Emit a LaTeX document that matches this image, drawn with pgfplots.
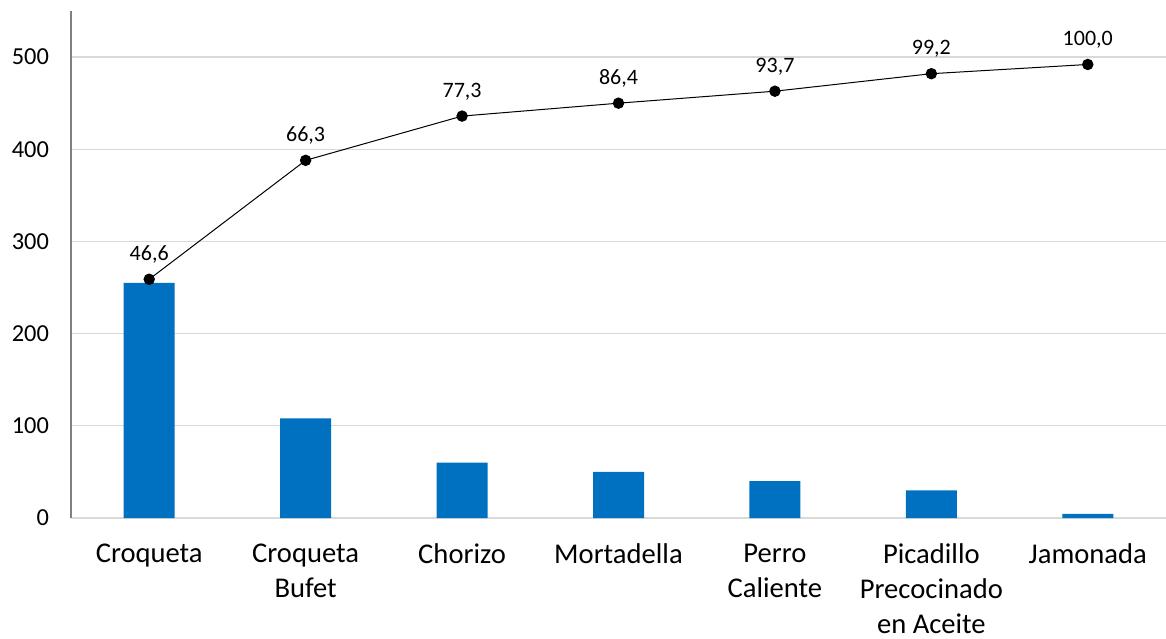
\documentclass[border=0pt]{standalone}
\usepackage{pgfplots}
\pgfplotsset{compat=1.18}
\usepackage{fontspec}
\setmainfont{Carlito}
\definecolor{barblue}{HTML}{0070C0}
\definecolor{gridgray}{HTML}{D9D9D9}
\definecolor{axgray}{HTML}{808080}
\begin{document}
\begin{tikzpicture}
\useasboundingbox (-35.5pt,-60pt) rectangle (547.5pt,259pt);
\begin{axis}[
  at={(0,0)}, anchor=south west,
  scale only axis, width=547.5pt, height=253.5pt,
  xmin=-0.5, xmax=6.5, ymin=0, ymax=550,
  clip=false,
  axis x line*=bottom, axis y line*=left,
  x axis line style={-, draw=gridgray, line width=0.8pt},
  y axis line style={-, draw=axgray, line width=0.6pt},
  ytick={0,100,...,500},
  ymajorgrids, grid style={draw=gridgray, line width=0.6pt},
  major tick length=0,
  xtick={0,...,6},
  xticklabels={Croqueta,{Croqueta\\Bufet},Chorizo,Mortadella,{Perro\\Caliente},{Picadillo\\Precocinado\\en Aceite},Jamonada},
  xticklabel style={align=center, font=\fontsize{14.3}{17.4}\selectfont, yshift=-9.5pt, text=black},
  yticklabel style={font=\fontsize{12.2}{14}\selectfont, xshift=-7.5pt, text=black},
  /pgf/number format/assume math mode=true,
]
\addplot[ybar, bar width=25.5pt, fill=barblue, draw=none] coordinates {
(0,255) (1,108) (2,60) (3,50) (4,40) (5,30) (6,4.4)};
\addplot[draw=black, line width=0.5pt, mark=*, mark size=2.6pt, mark options={fill=black, draw=black},
  nodes near coords, point meta=explicit symbolic,
  every node near coord/.append style={anchor=base, yshift=9.5pt, font=\fontsize{11}{13}\selectfont, text=black}]
  table[meta=lab] {
x y lab
0 259 46,6
1 388 66,3
2 436 77,3
3 450 86,4
4 463 93,7
5 482 99,2
6 492 100,0
};
\end{axis}
\end{tikzpicture}
\end{document}
